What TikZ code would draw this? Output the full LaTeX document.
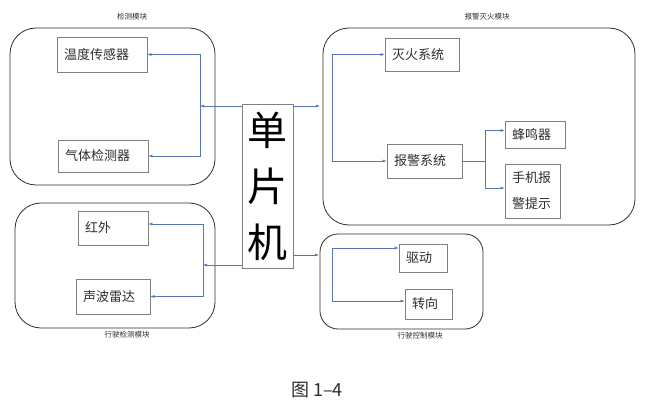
\documentclass[tikz,border=0pt]{standalone}
\usepackage{fontspec}
\setmainfont{Noto Sans CJK SC}
\usetikzlibrary{arrows.meta}
\definecolor{linkblue}{RGB}{88,118,178}
\definecolor{boxgray}{RGB}{128,128,128}
\definecolor{inkgray}{RGB}{45,45,45}

\begin{document}
\begin{tikzpicture}[x=1pt,y=-1pt]
  \useasboundingbox (0,0) rectangle (645,406);

  \tikzstyle{Module}=[draw=inkgray,line width=0.8pt,rounded corners=26pt,inner sep=0pt]
  \tikzstyle{Part}=[draw=boxgray,line width=0.7pt,inner xsep=7pt,inner ysep=0pt,align=left,
                    text=inkgray,font=\fontsize{13}{16}\selectfont]
  \tikzstyle{Title}=[text=inkgray,font=\fontsize{7.5}{9}\selectfont]
  \tikzstyle{Link}=[draw=linkblue,line width=0.6pt,-{Latex[length=4pt,width=3pt]}]

  % modules
  \node[Module,minimum width=205pt,minimum height=157pt] (det) at (112.5,106.5) {};
  \node[Module,minimum width=312pt,minimum height=197pt] (alm) at (479,126.5) {};
  \node[Module,minimum width=200pt,minimum height=125pt] (drv) at (115,265.5) {};
  \node[Module,rounded corners=18pt,minimum width=163pt,minimum height=95pt] (ctl) at (401.5,281.5) {};

  \node[Title] (detT) at (132,17) {检测模块};
  \node[Title] (almT) at (487,17) {报警灭火模块};
  \node[Title] (drvT) at (127,335) {行驶检测模块};
  \node[Title] (ctlT) at (420,336) {行驶控制模块};

  % parts
  \node[draw=boxgray,line width=0.7pt,inner sep=0pt,minimum width=51pt,minimum height=164pt,
        align=center,font=\fontsize{40}{56}\selectfont,text=black] (mcu) at (267.5,186) {单\\片\\机};
  \node[Part,text width=76pt,minimum height=35pt] (temp) at (102,54.5) {温度传感器};
  \node[Part,text width=76pt,minimum height=32pt] (gas) at (103,156) {气体检测器};
  \node[Part,text width=60pt,minimum height=33pt] (fire) at (422,54.5) {灭火系统};
  \node[Part,text width=61pt,minimum height=34pt] (alarm) at (424.5,161) {报警系统};
  \node[Part,text width=46pt,minimum height=27pt] (buzz) at (535,134.5) {蜂鸣器};
  \node[Part,text width=41pt,minimum height=54pt,
        font=\fontsize{13}{26}\selectfont] (phone) at (532.5,191) {手机报\\警提示};
  \node[Part,text width=56pt,minimum height=34pt] (ir) at (113,228) {红外};
  \node[Part,text width=60pt,minimum height=35pt] (sonar) at (113,296.5) {声波雷达};
  \node[Part,text width=34pt,minimum height=28pt] (drive) at (423,258) {驱动};
  \node[Part,text width=33pt,minimum height=30pt] (turn) at (428.5,304) {转向};

  % junctions
  \coordinate (j1) at (200,106);
  \coordinate (j2) at (320,106);
  \coordinate (j3) at (332,106);
  \coordinate (j4) at (485,161);
  \coordinate (j5) at (203,265);
  \coordinate (j6) at (319,255);
  \coordinate (j7) at (332,275);

  \draw[Link] (mcu.west |- j1) -- (j1);
  \draw[Link] (j1) |- (temp.east);
  \draw[Link] (j1) |- (gas.east);

  \draw[Link] (mcu.east |- j2) -- (j2);
  \draw[Link] (j3) |- (fire.west);
  \draw[Link] (j3) |- (alarm.west);
  \draw[draw=linkblue,line width=0.6pt] (alarm.east) -- (j4);
  \draw[Link] (j4) |- ([yshift=4pt]buzz.west);
  \draw[Link] (j4) |- ([yshift=3pt]phone.west);

  \draw[Link] (mcu.west |- j5) -- (j5);
  \draw[Link] (j5) |- ([yshift=4pt]ir.east);
  \draw[Link] (j5) |- (sonar.east);

  \draw[Link] (mcu.east |- j6) -- (j6);
  \draw[Link] (j7) |- ([yshift=10pt]drive.west);
  \draw[Link] (j7) |- ([yshift=3pt]turn.west);

  \node[font=\fontsize{18}{20}\selectfont,text=inkgray] (cap) at (317,390) {图 1–4};
\end{tikzpicture}
\end{document}
